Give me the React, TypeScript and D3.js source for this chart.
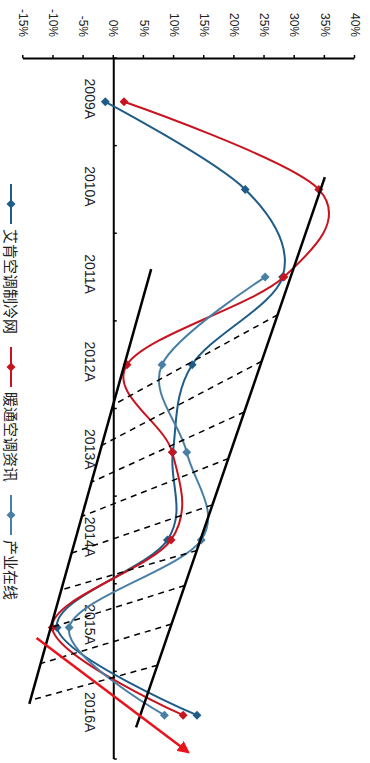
import { useEffect, useRef } from "react";
import * as d3 from "d3";

const years = ["2009A", "2010A", "2011A", "2012A", "2013A", "2014A", "2015A", "2016A"];
const aiken = [-1.4, 21.8, 28.0, 13.0, 9.8, 8.9, -9.4, 13.8];
const hvac = [1.7, 34.0, 28.2, 2.2, 9.7, 9.5, -10.2, 11.5];
const chanye: (number | null)[] = [null, null, 25.1, 8.0, 12.1, 14.5, -7.4, 8.4];
const seriesNames = ["艾肯空调制冷网", "暖通空调资讯", "产业在线"];
const seriesColors = ["#1f5c87", "#c8141e", "#4a7fa5"];
const valueTicks = [-15, -10, -5, 0, 5, 10, 15, 20, 25, 30, 35, 40];

// hand drawn annotations, as [category index, value %]
const upperLine: [number, number][] = [[0.86, 35.0], [7.14, 3.7]];
const lowerLine: [number, number][] = [[1.91, 6.2], [6.87, -14.0]];
const dashRight: [number, number][] = [
  [2.43, 27.2], [2.96, 24.55], [3.54, 21.66], [4.07, 19.03], [4.6, 16.36],
  [5.12, 13.79], [5.52, 11.8], [5.96, 9.59], [6.43, 7.25],
];
const dashLeft: [number, number][] = [
  [3.46, -0.1], [3.92, -1.97], [4.34, -3.68], [4.73, -5.26], [5.15, -6.99],
  [5.57, -8.71], [6.0, -10.43], [6.41, -12.1], [6.83, -13.82],
];
const arrowLine: [number, number][] = [[6.12, -12.8], [7.42, 12.3]];

const latin = "'Liberation Sans', Arial, sans-serif";
const cjk = "'Noto Sans CJK SC', sans-serif";

const App = () => {
  const ref = useRef<SVGSVGElement | null>(null);

  useEffect(() => {
    const svg = d3.select(ref.current);
    svg.selectAll("*").remove();

    // chart is drawn upright, then turned a quarter clockwise
    const g = svg.append("g").attr("transform", "translate(370,0) rotate(90)");

    const x = d3.scaleBand().domain(years).range([58, 759]);
    const xi = d3.scaleLinear().domain([-0.5, 7.5]).range([58, 759]);
    const y = d3.scaleLinear().domain([-15, 40]).range([346.7, 15]);

    svg
      .append("defs")
      .append("marker")
      .attr("id", "arrowhead")
      .attr("viewBox", "0 0 10 10")
      .attr("refX", 8)
      .attr("refY", 5)
      .attr("markerWidth", 5)
      .attr("markerHeight", 5)
      .attr("orient", "auto")
      .append("path")
      .attr("d", "M0,0L10,5L0,10z")
      .attr("fill", "#e8141c");

    // value axis
    const ya = g
      .append("g")
      .attr("transform", "translate(58,0)")
      .call(
        d3
          .axisLeft(y)
          .tickValues(valueTicks)
          .tickFormat((d) => d + "%")
          .tickSize(3)
          .tickSizeOuter(0)
          .tickPadding(18)
      );
    ya.select(".domain").attr("stroke", "#000").attr("stroke-width", 2);
    ya.selectAll(".tick line").attr("stroke", "#000").attr("stroke-width", 1.5);
    ya.selectAll(".tick text")
      .attr("font-size", 12)
      .attr("font-family", latin)
      .attr("fill", "#222");

    // category axis at 0%
    const y0 = y(0);
    g.append("line")
      .attr("x1", x.range()[0])
      .attr("x2", x.range()[1])
      .attr("y1", y0)
      .attr("y2", y0)
      .attr("stroke", "#000")
      .attr("stroke-width", 2);

    const bounds = [...years.map((c) => x(c) as number), x.range()[1]];
    g.selectAll(".ctick")
      .data(bounds)
      .join("line")
      .attr("x1", (d) => d)
      .attr("x2", (d) => d)
      .attr("y1", y0)
      .attr("y2", y0 - 3)
      .attr("stroke", "#000")
      .attr("stroke-width", 1.5);

    g.selectAll(".clabel")
      .data(years)
      .join("text")
      .attr("x", (d) => (x(d) as number) + x.bandwidth() / 2 - 3)
      .attr("y", y0 + 24)
      .attr("text-anchor", "middle")
      .attr("dominant-baseline", "central")
      .attr("font-size", 14)
      .attr("font-family", latin)
      .attr("fill", "#222")
      .text((d) => d);

    // series
    const allSeries = [aiken, hvac, chanye];
    const line = d3
      .line<[number, number | null]>()
      .defined((d) => d[1] !== null)
      .x((d) => xi(d[0]))
      .y((d) => y(d[1] as number))
      .curve(d3.curveCardinal.tension(0));

    const diamond = d3.symbol(d3.symbolSquare, 40);

    allSeries.forEach((vals, i) => {
      const pts = vals.map((v, j) => [j, v] as [number, number | null]);
      g.append("path")
        .datum(pts)
        .attr("fill", "none")
        .attr("stroke", seriesColors[i])
        .attr("stroke-width", 2)
        .attr("d", line);
      g.selectAll(".m" + i)
        .data(pts.filter((d) => d[1] !== null))
        .join("path")
        .attr("d", diamond)
        .attr("fill", seriesColors[i])
        .attr("transform", (d) => `translate(${xi(d[0])},${y(d[1] as number)}) rotate(45)`);
    });

    // annotations
    const seg = (p: [number, number][]) => ({
      x1: xi(p[0][0]),
      y1: y(p[0][1]),
      x2: xi(p[1][0]),
      y2: y(p[1][1]),
    });
    [upperLine, lowerLine].forEach((p) => {
      const s = seg(p);
      g.append("line")
        .attr("x1", s.x1)
        .attr("y1", s.y1)
        .attr("x2", s.x2)
        .attr("y2", s.y2)
        .attr("stroke", "#000")
        .attr("stroke-width", 2.5);
    });
    g.selectAll(".dash")
      .data(dashRight.map((r, i) => [r, dashLeft[i]] as [number, number][]))
      .join("line")
      .attr("x1", (d) => xi(d[0][0]))
      .attr("y1", (d) => y(d[0][1]))
      .attr("x2", (d) => xi(d[1][0]))
      .attr("y2", (d) => y(d[1][1]))
      .attr("stroke", "#000")
      .attr("stroke-width", 1.5)
      .attr("stroke-dasharray", "6,5");
    const a = seg(arrowLine);
    g.append("line")
      .attr("x1", a.x1)
      .attr("y1", a.y1)
      .attr("x2", a.x2)
      .attr("y2", a.y2)
      .attr("stroke", "#e8141c")
      .attr("stroke-width", 2.5)
      .attr("marker-end", "url(#arrowhead)");

    // legend
    const legendY = 359;
    let cur = 184;
    seriesNames.forEach((name, i) => {
      g.append("line")
        .attr("x1", cur)
        .attr("x2", cur + 40)
        .attr("y1", legendY)
        .attr("y2", legendY)
        .attr("stroke", seriesColors[i])
        .attr("stroke-width", 2);
      g.append("path")
        .attr("d", diamond)
        .attr("fill", seriesColors[i])
        .attr("transform", `translate(${cur + 20},${legendY}) rotate(45)`);
      const t = g
        .append("text")
        .attr("x", cur + 45)
        .attr("y", legendY)
        .attr("dominant-baseline", "central")
        .attr("font-size", 15)
        .attr("font-family", cjk)
        .attr("fill", "#222")
        .text(name);
      const w = (t.node() as SVGTextElement).getComputedTextLength();
      cur = cur + 45 + w + 13;
    });
  }, []);

  return (
    <svg
      ref={ref}
      width={370}
      height={763}
      style={{ position: "absolute", left: 0, top: 0, background: "#fff" }}
    ></svg>
  );
};

export default App;
